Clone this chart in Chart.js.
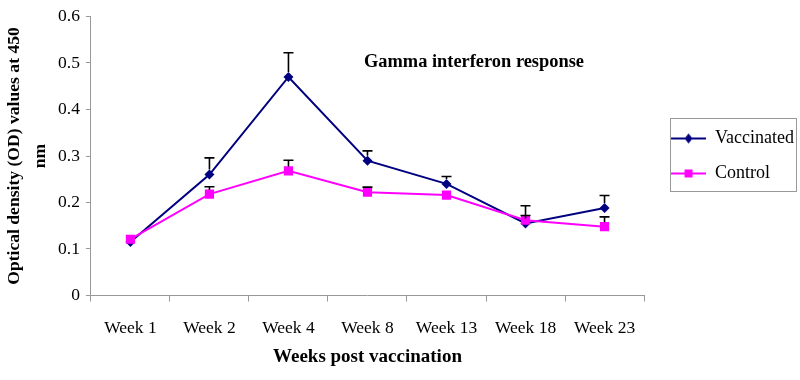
<!DOCTYPE html>
<html>
<head>
<meta charset="utf-8">
<script src="https://cdn.jsdelivr.net/npm/chart.js@4.4.1/dist/chart.umd.min.js"></script>
<style>
html,body{margin:0;padding:0;background:#fff;}
#wrap{width:800px;height:380px;}
</style>
</head>
<body>
<div id="wrap"><canvas id="c" width="800" height="380"></canvas></div>
<script>
const categories = ['Week 1','Week 2','Week 4','Week 8','Week 13','Week 18','Week 23'];
const vaccinated = [0.115, 0.26, 0.47, 0.29, 0.24, 0.155, 0.188];
const vaccinatedErr = [0, 0.036, 0.052, 0.021, 0.016, 0.038, 0.027];
const control = [0.121, 0.218, 0.268, 0.222, 0.216, 0.162, 0.148];
const controlErr = [0, 0.016, 0.023, 0.011, 0, 0.01, 0.021];
const yTicks = [0, 0.1, 0.2, 0.3, 0.4, 0.5, 0.6];

const SERIF = "'Liberation Serif', 'Times New Roman', serif";
const NAVY = '#000080';
const MAGENTA = '#FF00FF';

function legendIcon(color, shape){
  const c = document.createElement('canvas');
  c.width = 45; c.height = 12;
  const g = c.getContext('2d');
  g.strokeStyle = color; g.lineWidth = 2;
  g.beginPath(); g.moveTo(10,6); g.lineTo(45,6); g.stroke();
  g.fillStyle = color;
  g.beginPath();
  if (shape === 'diamond'){
    g.moveTo(27.5,1); g.lineTo(31.5,6); g.lineTo(27.5,11); g.lineTo(23.5,6); g.closePath();
  } else {
    g.rect(23.5,2,8,8);
  }
  g.fill();
  return c;
}
const icons = [legendIcon(NAVY,'diamond'), legendIcon(MAGENTA,'square')];

const errorBars = {
  id: 'errorBars',
  afterDatasetsDraw(chart){
    const ctx = chart.ctx;
    const y = chart.scales.y;
    const errs = [vaccinatedErr, controlErr];
    ctx.save();
    ctx.strokeStyle = '#000';
    ctx.lineWidth = 1.6;
    chart.data.datasets.forEach((ds, di) => {
      const meta = chart.getDatasetMeta(di);
      meta.data.forEach((pt, i) => {
        const e = errs[di][i];
        if (!e) return;
        const top = y.getPixelForValue(ds.data[i] + e);
        const r = di === 0 ? 5 : 4.5;
        ctx.beginPath();
        ctx.moveTo(pt.x, pt.y - r);
        ctx.lineTo(pt.x, top);
        ctx.moveTo(pt.x - 5, top);
        ctx.lineTo(pt.x + 5, top);
        ctx.stroke();
      });
    });
    ctx.restore();
  }
};

const decorations = {
  id: 'decorations',
  afterDraw(chart){
    const ctx = chart.ctx;
    const x = chart.scales.x, y = chart.scales.y;
    ctx.save();
    ctx.fillStyle = '#000';
    ctx.font = 'bold 18.4px ' + SERIF;
    ctx.textAlign = 'center';
    ctx.textBaseline = 'middle';
    ctx.fillText('Gamma interferon response', (x.getPixelForValue(4) + x.getPixelForValue(5)) / 2 - 12, y.getPixelForValue(0.502));
    // legend border
    const lg = chart.legend;
    if (lg && lg.legendHitBoxes && lg.legendHitBoxes.length){
      let l = Infinity, t = Infinity, r = -Infinity, b = -Infinity;
      lg.legendHitBoxes.forEach(h => {
        l = Math.min(l, h.left); t = Math.min(t, h.top);
        r = Math.max(r, h.left + h.width); b = Math.max(b, h.top + h.height);
      });
      ctx.strokeStyle = '#999';
      ctx.lineWidth = 1;
      ctx.strokeRect(Math.round(l + 9) + 0.5, Math.round(t - 12) + 0.5, Math.round(r - l - 7), Math.round(b - t + 20));
    }
    ctx.restore();
  }
};

new Chart(document.getElementById('c'), {
  type: 'line',
  data: {
    labels: categories,
    datasets: [
      {
        label: 'Vaccinated',
        data: vaccinated,
        borderColor: NAVY,
        backgroundColor: NAVY,
        borderWidth: 2,
        pointStyle: 'rectRot',
        pointRadius: 5,
        pointBorderWidth: 0,
        tension: 0,
        order: 1
      },
      {
        label: 'Control',
        data: control,
        borderColor: MAGENTA,
        backgroundColor: MAGENTA,
        borderWidth: 2,
        pointStyle: 'rect',
        pointRadius: 6.5,
        pointBorderWidth: 0,
        tension: 0,
        order: 0
      }
    ]
  },
  options: {
    responsive: false,
    animation: false,
    events: [],
    layout: { padding: { left: 0, right: -4, top: 10, bottom: 9 } },
    plugins: {
      tooltip: { enabled: false },
      legend: {
        position: 'right',
        fullSize: false,
        labels: {
          font: { family: SERIF, size: 18 },
          color: '#000',
          usePointStyle: true,
          pointStyleWidth: 45,
          padding: 17,
          generateLabels(chart){
            return chart.data.datasets.map((ds, i) => ({
              text: ds.label,
              pointStyle: icons[i],
              fillStyle: ds.borderColor,
              strokeStyle: ds.borderColor,
              lineWidth: 0,
              hidden: false,
              datasetIndex: i,
              fontColor: '#000'
            }));
          }
        }
      }
    },
    scales: {
      x: {
        offset: true,
        grid: { display: true, drawOnChartArea: false, drawTicks: true, tickLength: 6, offset: true, color: '#999' },
        border: { color: '#999', width: 1 },
        ticks: { font: { family: SERIF, size: 17.5, lineHeight: 1 }, color: '#000', padding: 18, maxRotation: 0 },
        title: { display: true, text: 'Weeks post vaccination', font: { family: SERIF, size: 19, weight: 'bold', lineHeight: 1 }, color: '#000', padding: { top: -7, bottom: 4 } }
      },
      y: {
        min: 0, max: 0.6,
        afterBuildTicks(scale){ scale.ticks = yTicks.map(v => ({ value: v })); },
        grid: { display: true, drawOnChartArea: false, drawTicks: true, tickLength: 5, color: '#999' },
        border: { color: '#999', width: 1 },
        ticks: { font: { family: SERIF, size: 17.5 }, color: '#000', padding: 6, callback: v => String(v) },
        title: { display: true, text: ['Optical density (OD) values at 450', 'nm'], font: { family: SERIF, size: 17.6, weight: 'bold', lineHeight: 1.45 }, color: '#000', padding: { top: 2, bottom: -1 } }
      }
    }
  },
  plugins: [errorBars, decorations]
});
</script>
</body>
</html>
